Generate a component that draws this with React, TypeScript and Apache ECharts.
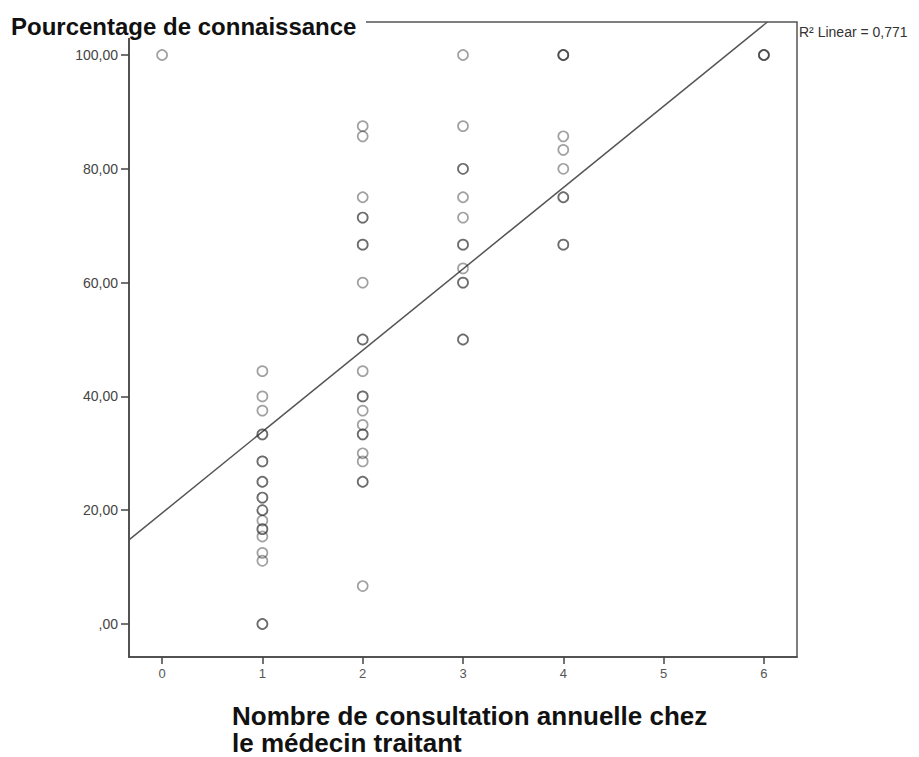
import React, { useEffect, useRef } from "react";
import * as echarts from "echarts";

// Percentage of knowledge by number of annual consultations
const consult0 = [100];
const consult1 = [44.44, 40, 37.5, 33.33, 33.33, 28.57, 28.57, 25, 25, 22.22, 22.22, 20, 20, 18.18, 16.67, 16.67, 15.38, 12.5, 11.11, 0, 0];
const consult2 = [87.5, 85.71, 75, 71.43, 71.43, 66.67, 66.67, 60, 50, 50, 44.44, 40, 40, 37.5, 35, 33.33, 33.33, 30, 28.57, 25, 25, 6.67];
const consult3 = [100, 87.5, 80, 80, 75, 71.43, 66.67, 66.67, 62.5, 60, 60, 50, 50];
const consult4 = [100, 100, 100, 85.71, 83.33, 80, 75, 75, 66.67, 66.67];
const consult6 = [100, 100, 100];

const columns: [number, number[]][] = [
  [0, consult0],
  [1, consult1],
  [2, consult2],
  [3, consult3],
  [4, consult4],
  [6, consult6],
];

const xTicks = [0, 1, 2, 3, 4, 5, 6];
const yTicks = [0, 20, 40, 60, 80, 100];

// fit line
const fitIntercept = 19.5;
const fitSlope = 14.3;
const r2Text = "0,771";

const xMin = -0.33;
const xMax = 6.33;
const yMin = -5.8;
const yMax = 105.8;

export default function App() {
  const ref = useRef<HTMLDivElement>(null);
  useEffect(() => {
    document.body.style.margin = "0";
    const chart = echarts.init(ref.current!, null, { renderer: "svg" });
    const points: number[][] = [];
    columns.forEach(([x, vals]) => vals.forEach((v) => points.push([x, v])));
    const xEnd = Math.min(xMax, (yMax - fitIntercept) / fitSlope);
    const linePts = [
      [xMin, fitIntercept + fitSlope * xMin],
      [xEnd, fitIntercept + fitSlope * xEnd],
    ];
    const axisColor = "#444";
    const labelFont = "Arial, 'Liberation Sans', sans-serif";
    chart.setOption({
      animation: false,
      backgroundColor: "#fff",
      grid: {
        left: 129,
        right: 122,
        top: 22,
        bottom: 100,
        show: true,
        borderColor: "#555",
        borderWidth: 1.5,
        backgroundColor: "transparent",
      },
      xAxis: {
        type: "value",
        min: xMin,
        max: xMax,
        splitLine: { show: false },
        axisLine: { show: true, onZero: false, lineStyle: { color: axisColor, width: 1.5 } },
        axisTick: { show: true, length: 7, customValues: xTicks, lineStyle: { color: axisColor, width: 1.5 } },
        axisLabel: {
          customValues: xTicks,
          color: "#555",
          fontSize: 13,
          fontFamily: labelFont,
          margin: 10,
        },
      },
      yAxis: {
        type: "value",
        min: yMin,
        max: yMax,
        splitLine: { show: false },
        axisLine: { show: true, onZero: false, lineStyle: { color: axisColor, width: 1.5 } },
        axisTick: { show: true, length: 8, customValues: yTicks, lineStyle: { color: axisColor, width: 1.5 } },
        axisLabel: {
          customValues: yTicks,
          color: "#444",
          fontSize: 14,
          fontFamily: labelFont,
          margin: 11,
          formatter: (v: number) => (v === 0 ? ",00" : v.toFixed(2).replace(".", ",")),
        },
      },
      series: [
        {
          type: "line",
          data: linePts,
          symbol: "none",
          lineStyle: { color: "#555", width: 1.5 },
          z: 1,
        },
        {
          type: "scatter",
          data: points,
          symbol: "circle",
          symbolSize: 10,
          itemStyle: {
            color: "rgba(255,255,255,0)",
            borderColor: "rgba(40,40,40,0.55)",
            borderWidth: 1.7,
          },
          z: 2,
        },
      ],
      graphic: [
        {
          type: "rect",
          left: 0,
          top: 10,
          shape: { width: 366, height: 28 },
          style: { fill: "#fff" },
          z: 100,
        },
        {
          type: "text",
          left: 11,
          top: 14,
          style: {
            text: "Pourcentage de connaissance",
            font: "bold 24px Arial, 'Liberation Sans', sans-serif",
            fill: "#111",
          },
          z: 101,
        },
        {
          type: "text",
          left: 799,
          top: 25,
          style: {
            text: "R² Linear = " + r2Text,
            font: "14px Arial, 'Liberation Sans', sans-serif",
            fill: "#333",
          },
          z: 101,
        },
        {
          type: "text",
          left: 232,
          top: 702,
          style: {
            text: "Nombre de consultation annuelle chez\nle médecin traitant",
            font: "bold 26px Arial, 'Liberation Sans', sans-serif",
            lineHeight: 27,
            fill: "#111",
          },
          z: 101,
        },
      ],
    });
    return () => chart.dispose();
  }, []);
  return <div ref={ref} style={{ width: 919, height: 757 }} />;
}
